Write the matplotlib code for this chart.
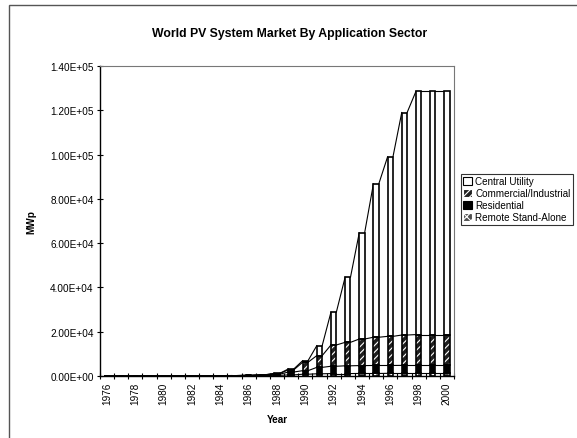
import numpy as np
import matplotlib
matplotlib.use("Agg")
import matplotlib.pyplot as plt
from matplotlib.patches import Rectangle

plt.rcParams['font.family'] = ['Liberation Sans', 'DejaVu Sans']
plt.rcParams['hatch.linewidth'] = 0.8

years = list(range(1976, 2001))

# installed capacity by sector, MWp
remote = [15, 20, 25, 30, 35, 45, 55, 65, 80, 100, 130, 180, 300,
          500, 800, 1000, 1100, 1100, 1150, 1150, 1200, 1200, 1200, 1200, 1200]
residential = [3, 5, 8, 10, 15, 20, 25, 35, 50, 70, 120, 220, 500,
               1300, 1600, 2900, 3300, 3500, 3550, 3600, 3550, 3600, 3600, 3600, 3600]
commercial = [2, 3, 5, 8, 8, 10, 15, 20, 25, 35, 70, 130, 300,
              1000, 3800, 5300, 9600, 10600, 12000, 12750, 13150, 13700, 13900, 13900, 13900]
central = [0, 2, 2, 2, 2, 5, 5, 10, 15, 15, 30, 70, 100,
           400, 700, 4500, 14800, 29400, 48000, 69300, 81100, 100500, 109800, 109800, 109800]

series = [
    ("Remote Stand-Alone", remote, dict(facecolor="#505050", edgecolor="white", hatch="xxxx")),
    ("Residential", residential, dict(facecolor="black", edgecolor="black", hatch=None)),
    ("Commercial/Industrial", commercial, dict(facecolor="#202020", edgecolor="white", hatch="/////")),
    ("Central Utility", central, dict(facecolor="white", edgecolor="black", hatch=None)),
]

fig = plt.figure(figsize=(5.77, 4.39), dpi=100)
ax = fig.add_axes([100 / 577, 1 - 377 / 439, 354 / 577, 310 / 439])

x = np.arange(len(years))
w = 0.38
bottom = np.zeros(len(years))
handles = []
for name, vals, st in series:
    vals = np.array(vals, dtype=float)
    ax.bar(x, vals, w, bottom=bottom, facecolor=st["facecolor"],
           edgecolor=st["edgecolor"], hatch=st["hatch"], linewidth=0, zorder=2)
    # black outline on top of the fill
    ax.bar(x, vals, w, bottom=bottom, facecolor="none", edgecolor="black",
           linewidth=1.2, zorder=3)
    top = bottom + vals
    # series lines joining the tops of neighbouring bars
    for i in range(len(x) - 1):
        ax.plot([x[i] + w / 2, x[i + 1] - w / 2], [top[i], top[i + 1]],
                color="black", lw=0.8, zorder=1)
    handles.append(Rectangle((0, 0), 1, 1, facecolor=st["facecolor"],
                             edgecolor=st["edgecolor"] if st["hatch"] else "black",
                             hatch=st["hatch"], linewidth=0.8))
    bottom = top

ax.set_xlim(-0.5, len(years) - 0.5)
ax.set_ylim(0, 140000)
ax.set_yticks(np.arange(0, 140001, 20000))
ax.set_yticklabels([f"{v:.2E}" for v in np.arange(0, 140001, 20000)], fontsize=7.2)
ax.set_xticks(x[::2])
ax.set_xticklabels([str(y) for y in years[::2]], rotation=90, fontsize=7.2)
ax.set_xticks(np.arange(-0.5, len(years), 1), minor=True)
ax.tick_params(axis="x", which="major", length=0, pad=4)
ax.tick_params(axis="x", which="minor", direction="inout", length=5, width=0.8)
ax.tick_params(axis="y", direction="inout", length=5, width=0.8, pad=2)
for side in ["top", "right"]:
    ax.spines[side].set_color("#777777")
    ax.spines[side].set_linewidth(0.8)
ax.spines["left"].set_linewidth(1.0)
ax.spines["bottom"].set_linewidth(1.0)

ax.set_xlabel("Year", fontsize=7.2, fontweight="bold", labelpad=7)
ax.set_ylabel("MWp", fontsize=7.2, fontweight="bold", labelpad=10)
fig.text(0.502, 1 - 34 / 439, "World PV System Market By Application Sector",
         ha="center", va="center", fontsize=8.8, fontweight="bold")

labels = [s[0] for s in series]
leg = fig.legend(handles[::-1], labels[::-1], loc="upper left",
                 bbox_to_anchor=(461 / 577, 1 - 175 / 439), fontsize=7.1,
                 frameon=True, fancybox=False, handlelength=0.9, handleheight=0.9,
                 handletextpad=0.3, labelspacing=0.2, borderpad=0.25, borderaxespad=0)
leg.get_frame().set_edgecolor("black")
leg.get_frame().set_linewidth(0.8)

# chart area border
fig.patches.append(Rectangle((9 / 577, -0.02), 1.05, 1 - 6 / 439 + 0.02,
                             transform=fig.transFigure, fill=False,
                             edgecolor="#555555", linewidth=1.0))

fig.savefig("out.png", dpi=100)
